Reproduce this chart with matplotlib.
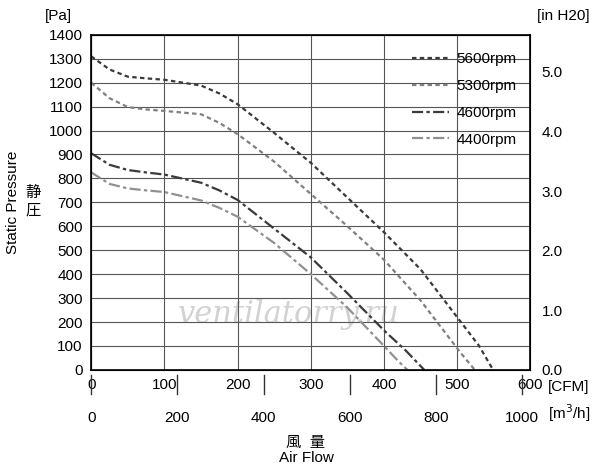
import matplotlib.pyplot as plt

cfm_5600 = [0, 25, 50, 75, 100, 150, 175, 200, 250, 300, 350, 400, 450, 500, 530, 549]
pa_5600 = [1310, 1255, 1225, 1218, 1212, 1188, 1155, 1110, 990, 865, 720, 575, 420, 220, 100, 0]
cfm_5300 = [0, 25, 50, 75, 100, 150, 175, 200, 250, 300, 350, 400, 450, 480, 505, 524]
pa_5300 = [1200, 1135, 1098, 1088, 1082, 1068, 1032, 985, 870, 735, 600, 460, 290, 170, 70, 0]
cfm_4600 = [0, 25, 50, 75, 100, 150, 175, 200, 250, 300, 350, 400, 430, 455]
pa_4600 = [905, 857, 835, 825, 816, 782, 750, 710, 590, 470, 320, 165, 80, 0]
cfm_4400 = [0, 25, 50, 75, 100, 150, 175, 200, 250, 300, 350, 400, 420, 432]
pa_4400 = [825, 777, 758, 750, 743, 708, 677, 640, 530, 400, 260, 100, 35, 0]

series = [
    ("5600rpm", cfm_5600, pa_5600, "#3a3a3a", (0, (2, 1.5))),
    ("5300rpm", cfm_5300, pa_5300, "#808080", (0, (2, 1.5))),
    ("4600rpm", cfm_4600, pa_4600, "#3a3a3a", (0, (5, 1.5, 1.5, 1.5))),
    ("4400rpm", cfm_4400, pa_4400, "#909090", (0, (5, 1.5, 1.5, 1.5))),
]

plt.rcParams["font.family"] = ["Liberation Sans", "Noto Sans CJK JP"]
fig = plt.figure(figsize=(6, 4.7), dpi=100)
ax = fig.add_axes([0.152, 0.213, 0.732, 0.713])

for label, x, y, c, ls in series:
    ax.plot(x, y, color=c, linestyle=ls, linewidth=1.6, label=label)

ax.set_xlim(0, 600)
ax.set_ylim(0, 1400)
ax.set_xticks(range(0, 601, 100))
ax.set_yticks(range(0, 1401, 100))
ax.tick_params(labelsize=11, length=0, pad=6)
ax.grid(True, color="#555555", linewidth=0.8)
for s in ax.spines.values():
    s.set_linewidth(1.2)

ax.legend(loc="upper right", frameon=False, fontsize=11, handlelength=2.4,
          labelspacing=0.85, handletextpad=0.5, bbox_to_anchor=(1.0, 0.99))

ax2 = ax.twinx()
ax2.set_ylim(0, 1400 / 249.09)
ax2.set_yticks([0, 1, 2, 3, 4, 5])
ax2.set_yticklabels(["0.0", "1.0", "2.0", "3.0", "4.0", "5.0"])
ax2.tick_params(labelsize=11, length=0, pad=8)

m3h = [0, 200, 400, 600, 800, 1000]
for v in m3h:
    xc = v / 1.699
    ax.plot([xc, xc], [-20, -100], color="#333333", lw=1, clip_on=False)
    ax.text(xc, -200, str(v), ha="center", va="center", fontsize=11)

ax.text(1.04, -0.05, "[CFM]", transform=ax.transAxes, fontsize=11, va="center")
ax.text(1.04, -0.13, "[m$^3$/h]", transform=ax.transAxes, fontsize=11, va="center")
fig.text(0.075, 0.965, "[Pa]", fontsize=11, va="center")
fig.text(0.895, 0.965, "[in H20]", fontsize=11, va="center")
fig.text(0.022, 0.57, "Static Pressure", rotation=90, fontsize=11, ha="center", va="center")
fig.text(0.055, 0.57, "静\n圧", fontsize=11, ha="center", va="center", linespacing=1.3)
fig.text(0.51, 0.058, "風  量", fontsize=11, ha="center", va="center")
fig.text(0.51, 0.025, "Air Flow", fontsize=11, ha="center", va="center")
ax.text(270, 230, "ventilatorry.ru", fontsize=22, color="#d2d2d2", ha="center",
        va="center", style="italic", family="DejaVu Serif", zorder=0)

fig.savefig("out.png", dpi=100)
